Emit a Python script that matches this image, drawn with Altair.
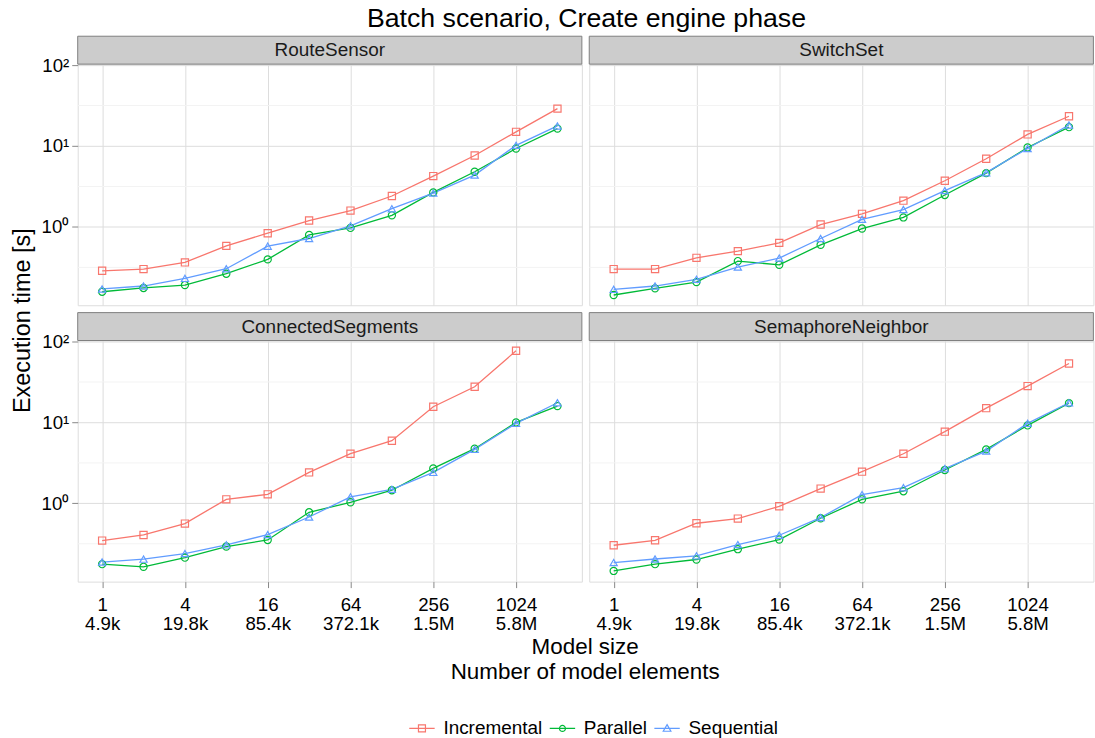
import altair as alt
import pandas as pd

title_text = "Batch scenario, Create engine phase"
y_title = "Execution time [s]"
x_title = "Model size\nNumber of model elements"
benchmarks = ["RouteSensor", "SwitchSet", "ConnectedSegments", "SemaphoreNeighbor"]
tools = ["Incremental", "Parallel", "Sequential"]
colors = ["#F8766D", "#00BA38", "#619CFF"]
sizes = [1, 2, 4, 8, 16, 32, 64, 128, 256, 512, 1024, 2048]
x_tick_values = [1, 4, 16, 64, 256, 1024]
x_tick_elements = ["4.9k", "19.8k", "85.4k", "372.1k", "1.5M", "5.8M"]
y_tick_values = [1, 10, 100]
y_tick_labels = ["10⁰", "10¹", "10²"]
y_minor = [0.316, 3.16, 31.6]

# Execution times [s] per benchmark and tool
route_inc = [0.287, 0.301, 0.364, 0.583, 0.836, 1.20, 1.59, 2.41, 4.25, 7.64, 14.96, 28.97]
route_par = [0.158, 0.176, 0.191, 0.264, 0.397, 0.797, 0.972, 1.39, 2.67, 4.81, 9.31, 16.4]
route_seq = [0.171, 0.186, 0.231, 0.304, 0.578, 0.719, 1.03, 1.68, 2.62, 4.37, 10.2, 17.7]

switch_inc = [0.301, 0.301, 0.415, 0.502, 0.635, 1.07, 1.45, 2.11, 3.72, 6.95, 13.9, 23.3]
switch_par = [0.144, 0.174, 0.208, 0.378, 0.340, 0.600, 0.955, 1.31, 2.48, 4.62, 9.59, 17.1]
switch_seq = [0.169, 0.186, 0.225, 0.319, 0.412, 0.719, 1.24, 1.64, 2.81, 4.68, 9.31, 18.2]

conn_inc = [0.346, 0.406, 0.561, 1.12, 1.29, 2.41, 4.10, 5.94, 15.6, 27.6, 76.8, None]
conn_par = [0.177, 0.164, 0.213, 0.292, 0.352, 0.774, 1.03, 1.45, 2.70, 4.73, 10.0, 15.9]
conn_seq = [0.188, 0.204, 0.239, 0.306, 0.411, 0.677, 1.20, 1.49, 2.41, 4.64, 9.72, 17.5]

sema_inc = [0.303, 0.349, 0.567, 0.647, 0.918, 1.52, 2.46, 4.10, 7.68, 15.0, 28.1, 53.5]
sema_par = [0.146, 0.177, 0.202, 0.271, 0.356, 0.653, 1.12, 1.41, 2.58, 4.64, 9.18, 17.3]
sema_seq = [0.185, 0.205, 0.224, 0.309, 0.403, 0.666, 1.28, 1.56, 2.68, 4.42, 9.72, 17.5]

series = {
    "RouteSensor": [route_inc, route_par, route_seq],
    "SwitchSet": [switch_inc, switch_par, switch_seq],
    "ConnectedSegments": [conn_inc, conn_par, conn_seq],
    "SemaphoreNeighbor": [sema_inc, sema_par, sema_seq],
}

rows = []
for b in benchmarks:
    for t, vals in zip(tools, series[b]):
        for s, v in zip(sizes, vals):
            if v is not None:
                rows.append({"benchmark": b, "tool": t, "size": s, "time": v})
df = pd.DataFrame(rows)

FONT = "Liberation Sans"
W, H, STRIP = 506, 242, 28
TICK_FS = 18.7

xscale = alt.Scale(type="log", base=2, domain=[2 ** -0.59, 2 ** 11.59], nice=False)
yscale = alt.Scale(type="log", base=10, domain=[10 ** -0.968, 10 ** 2.012], nice=False)
cscale = alt.Scale(domain=tools, range=colors)
point_shapes = ["square", "circle", "triangle-up"]
legend_paths = [
    "M-1,0H1M-0.275,-0.275H0.275V0.275H-0.275Z",
    "M-1,0H1M0.235,0A0.235,0.235,0,1,1,-0.235,0A0.235,0.235,0,1,1,0.235,0Z",
    "M-1,0H1M0,-0.3L0.3,0.22L-0.3,0.22Z",
]

x_label_expr = " : ".join(
    f"datum.value == {v} ? ['{v}', '{e}']" for v, e in zip(x_tick_values, x_tick_elements)
) + " : ''"
y_label_expr = " : ".join(
    f"datum.value == {v} ? '{l}'" for v, l in zip(y_tick_values, y_tick_labels)
) + " : ''"


def panel(name, left, bottom, extras=()):
    d = df[df.benchmark == name]
    if bottom:
        xaxis = alt.Axis(values=x_tick_values, labelExpr=x_label_expr, labelFontSize=TICK_FS,
                         labelLineHeight=19.5, tickSize=6, labelPadding=8, title=None,
                         grid=True, labelFlush=False, labelOverlap=False, domain=False)
    else:
        xaxis = alt.Axis(values=x_tick_values, labels=False, ticks=False, domain=False,
                         title=None, grid=True)
    if left:
        yaxis = alt.Axis(values=y_tick_values, labelExpr=y_label_expr, labelFontSize=TICK_FS,
                         tickSize=6, labelPadding=3, title=None, grid=True,
                         labelFlush=False, labelOverlap=False, domain=False)
    else:
        yaxis = alt.Axis(values=y_tick_values, labels=False, ticks=False, domain=False,
                         title=None, grid=True)

    base = alt.Chart(d)
    line = base.mark_line(strokeWidth=1.3).encode(
        x=alt.X("size:Q", scale=xscale, axis=xaxis),
        y=alt.Y("time:Q", scale=yscale, axis=yaxis),
        color=alt.Color("tool:N", scale=cscale),
    )
    minor = alt.Chart(pd.DataFrame({"v": y_minor})).mark_rule(
        color="#F3F3F3", strokeWidth=1).encode(
        y=alt.Y("v:Q", scale=yscale))
    pts = []
    for t, shp in zip(tools, point_shapes):
        pts.append(
            base.transform_filter(alt.datum.tool == t).mark_point(
                shape=shp, filled=False, size=52, strokeWidth=1.2, opacity=1).encode(
                x=alt.X("size:Q", scale=xscale),
                y=alt.Y("time:Q", scale=yscale),
                color=alt.Color("tool:N", scale=cscale),
            )
        )
    lab = alt.Chart(pd.DataFrame({"label": [name]}))
    strip = lab.mark_rect(fill="#CCCCCC", stroke="#7F7F7F", strokeWidth=1).encode(
        x=alt.value(0), x2=alt.value(W), y=alt.value(-STRIP), y2=alt.value(0))
    strip_text = lab.mark_text(fontSize=19, font=FONT, color="#1A1A1A").encode(
        x=alt.value(W / 2), y=alt.value(-STRIP / 2), text="label:N")
    return alt.layer(minor, line, *pts, strip, strip_text, *extras).properties(
        width=W, height=H)


ytitle_layer = alt.Chart(pd.DataFrame({"t": [y_title]})).mark_text(
    angle=270, fontSize=23.5, font=FONT, color="black").encode(
    x=alt.value(-54.7), y=alt.value(257.5), text="t:N")

xtitle_layer = alt.Chart(pd.DataFrame({"t": [x_title]})).mark_text(
    fontSize=22.5, font=FONT, color="black", lineBreak="\n", lineHeight=25,
    baseline="middle").encode(
    x=alt.value(509.3), y=alt.value(307.5), text="t:N")

leg = alt.Legend(title=None, orient="none", legendX=332, legendY=653,
                 direction="horizontal", columns=3, labelFontSize=19, labelFont=FONT,
                 labelColor="black", symbolSize=650, symbolStrokeWidth=1.2,
                 labelOffset=8, columnPadding=4)
legend_layer = alt.Chart(df[df.benchmark == "ConnectedSegments"]).mark_point(
    opacity=0, filled=False, strokeWidth=1.2).encode(
    x=alt.X("size:Q", scale=xscale),
    y=alt.Y("time:Q", scale=yscale),
    color=alt.Color("tool:N", scale=cscale, legend=leg),
    shape=alt.Shape("tool:N", scale=alt.Scale(domain=tools, range=legend_paths), legend=leg),
)

p1 = panel("RouteSensor", True, False, [ytitle_layer])
p2 = panel("SwitchSet", False, False)
p3 = panel("ConnectedSegments", True, True, [xtitle_layer, legend_layer])
p4 = panel("SemaphoreNeighbor", False, True)

chart = alt.concat(p1, p2, p3, p4, columns=2,
                   spacing=alt.RowColnumber(row=35.4, column=7.4),
                   bounds="flush").properties(
    title=alt.TitleParams(text=title_text, fontSize=26.8, font=FONT, fontWeight="normal",
                          anchor="middle", offset=2, dx=34, color="black"),
    padding={"left": 10, "top": 5, "right": 0, "bottom": 0},
).configure_view(stroke="#7F7F7F", strokeWidth=1).configure_axis(
    gridColor="#E5E5E5", labelFont=FONT, labelColor="black", tickColor="#333333",
    tickWidth=1).configure(background="white")

chart.save("out.html", embed_options={"renderer": "svg", "actions": False})
